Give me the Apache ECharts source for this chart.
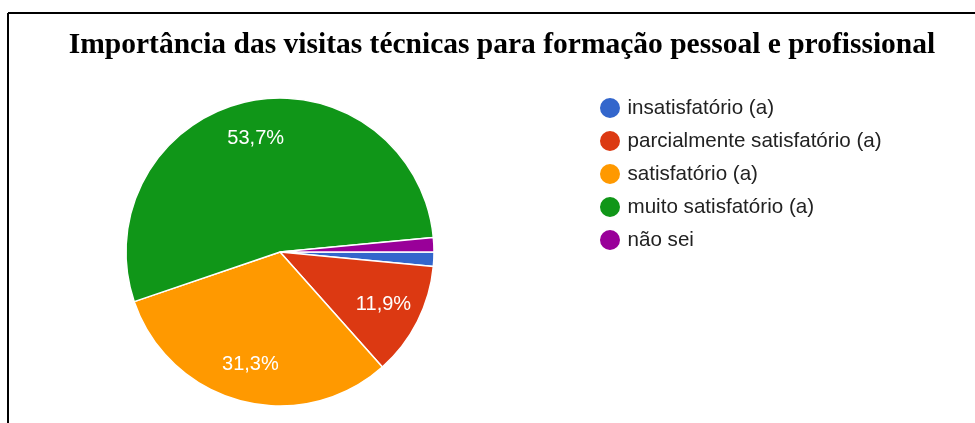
<!DOCTYPE html>
<html>
<head>
<meta charset="utf-8">
<script src="https://cdn.jsdelivr.net/npm/echarts@6/dist/echarts.min.js"></script>
<style>
  html, body { margin: 0; padding: 0; background: #fff; }
  #chart { width: 975px; height: 423px; }
</style>
</head>
<body>
<div id="chart"></div>
<script>
// respostas (67 no total)
const categories = ['insatisfatório (a)', 'parcialmente satisfatório (a)', 'satisfatório (a)', 'muito satisfatório (a)', 'não sei'];
const counts = [1, 8, 21, 36, 1];
const colors = ['#3366cc', '#dc3912', '#ff9900', '#109618', '#990099'];
const titleText = 'Importância das visitas técnicas para formação pessoal e profissional';

const total = counts.reduce((a, b) => a + b, 0);
const pieData = categories.map((name, i) => ({ name: name, value: counts[i] }));

const myChart = echarts.init(document.getElementById('chart'));
const option = {
  animation: false,
  color: colors,
  title: {
    text: titleText,
    left: 497,
    top: 25,
    textAlign: 'center',
    textStyle: {
      fontFamily: 'Liberation Serif',
      fontWeight: 'bold',
      fontSize: 29.5,
      color: '#000',
    },
  },
  legend: {
    orient: 'vertical',
    left: 598,
    top: 96,
    padding: 0,
    icon: 'circle',
    itemWidth: 25,
    itemHeight: 22,
    itemGap: 9,
    data: categories,
    textStyle: {
      fontFamily: 'Liberation Sans',
      fontSize: 20.6,
      lineHeight: 21,
      color: '#222',
    },
  },
  graphic: [
    { type: 'line', shape: { x1: 8, y1: 13, x2: 975, y2: 13 }, style: { stroke: '#000', lineWidth: 2 } },
    { type: 'line', shape: { x1: 8, y1: 13, x2: 8, y2: 423 }, style: { stroke: '#000', lineWidth: 2 } },
  ],
  series: [
    {
      type: 'pie',
      center: [280, 252],
      radius: 154,
      startAngle: 0,
      clockwise: true,
      label: { show: false },
      labelLine: { show: false },
      itemStyle: { borderColor: '#fff', borderWidth: 1.5 },
      emphasis: { disabled: true },
      data: pieData,
    },
    {
      // só para posicionar os rótulos a ~3/4 do raio
      type: 'pie',
      center: [280, 252],
      radius: [72, 154],
      startAngle: 0,
      clockwise: true,
      silent: true,
      itemStyle: { color: 'transparent', borderWidth: 0 },
      emphasis: { disabled: true },
      labelLine: { show: false },
      label: {
        show: true,
        position: 'inside',
        fontFamily: 'Liberation Sans',
        fontSize: 20,
        color: '#fff',
        formatter(params) {
          const pct = params.value / total * 100;
          if (pct < 5) {
            return '';
          }
          return pct.toFixed(1).replace('.', ',') + '%';
        },
      },
      data: pieData,
    },
  ],
};
myChart.setOption(option);
</script>
</body>
</html>
